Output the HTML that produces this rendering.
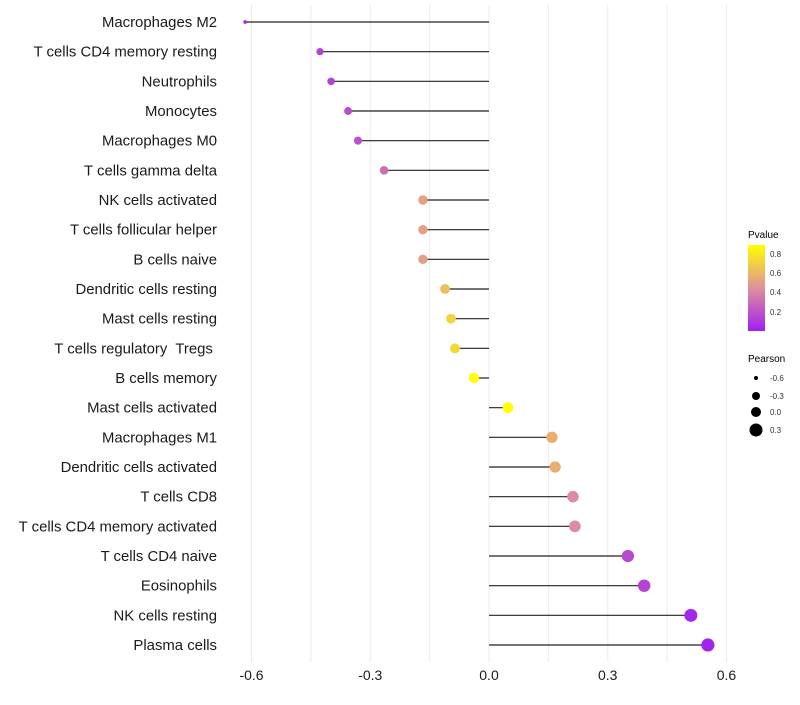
<!DOCTYPE html>
<html><head><meta charset="utf-8"><style>
body{margin:0;background:#fff;font-family:"Liberation Sans",sans-serif}
svg text{font-family:"Liberation Sans",sans-serif;white-space:pre}
</style></head><body>
<svg id="chart" width="800" height="700" xmlns="http://www.w3.org/2000/svg">
<defs><linearGradient id="pg" x1="0" y1="1" x2="0" y2="0">
<stop offset="0" stop-color="#a020f0"/><stop offset="0.5" stop-color="#e0909c"/><stop offset="1" stop-color="#ffff00"/>
</linearGradient></defs>
<g id="grid"></g><g id="marks"></g><g id="labels"></g>
<g>
<text x="748" y="238" font-size="10">Pvalue</text>
<rect x="748" y="245" width="17" height="86" fill="url(#pg)"/>
<g font-size="8" fill="#333">
<text x="770" y="257">0.8</text><text x="770" y="276">0.6</text><text x="770" y="295">0.4</text><text x="770" y="315">0.2</text>
</g></g>
<g>
<text x="748" y="362" font-size="10">Pearson</text>
<g fill="#000"><circle cx="756" cy="378" r="2"/><circle cx="756" cy="396" r="4"/><circle cx="756" cy="412" r="5"/><circle cx="756" cy="430" r="6.5"/></g>
<g font-size="8" fill="#333"><text x="770" y="381">-0.6</text><text x="770" y="399">-0.3</text><text x="770" y="415">0.0</text><text x="770" y="433">0.3</text></g>
</g>
</svg>
<script>
const categories=["Macrophages M2","T cells CD4 memory resting","Neutrophils","Monocytes","Macrophages M0","T cells gamma delta","NK cells activated","T cells follicular helper","B cells naive","Dendritic cells resting","Mast cells resting","T cells regulatory  Tregs ","B cells memory","Mast cells activated","Macrophages M1","Dendritic cells activated","T cells CD8","T cells CD4 memory activated","T cells CD4 naive","Eosinophils","NK cells resting","Plasma cells"];
const pearson=[-0.616,-0.427,-0.399,-0.356,-0.331,-0.265,-0.167,-0.167,-0.167,-0.111,-0.096,-0.086,-0.038,0.048,0.159,0.167,0.212,0.217,0.351,0.392,0.510,0.553];
const pvalues=[0.05,0.14,0.15,0.18,0.2,0.3,0.5,0.5,0.5,0.62,0.7,0.72,0.87,0.87,0.56,0.56,0.42,0.42,0.17,0.15,0.04,0.02];
const ticks=[-0.6,-0.3,0.0,0.3,0.6];
const NS="http://www.w3.org/2000/svg";
const x=v=>489+v*395.8;
const y=i=>22+i*(645-22)/(categories.length-1);
const r=v=>1.6+4.6*Math.sqrt(Math.max(0,v+0.62));
function col(p){const t=Math.max(0,Math.min(1,(p-0.01)/0.86));
const a=[160,32,240],m=[224,144,156],b=[255,255,0];let c;
if(t<0.5){const s=t/0.5;c=a.map((v,k)=>v+(m[k]-v)*s);}else{const s=(t-0.5)/0.5;c=m.map((v,k)=>v+(b[k]-v)*s);}
return `rgb(${c.map(Math.round).join(",")})`;}
function mk(t,a,p){const e=document.createElementNS(NS,t);for(const k in a)e.setAttribute(k,a[k]);p.appendChild(e);return e;}
const grid=document.getElementById("grid"),marks=document.getElementById("marks"),labels=document.getElementById("labels");
for(let v=-0.6;v<=0.66;v+=0.15){const g=mk("line",{x1:x(v),x2:x(v),y1:5,y2:662,stroke:"#ebebeb","stroke-width":1},grid);

}
ticks.forEach(t=>{const e=mk("text",{x:x(t),y:680,"text-anchor":"middle","font-size":"14",fill:"#1a1a1a"},labels);e.textContent=t.toFixed(1);

});
categories.forEach((c,i)=>{
const l=mk("text",{x:217,y:y(i)+5,"text-anchor":"end","font-size":"14.9",fill:"#1a1a1a"},labels);l.textContent=c;


const s=mk("line",{x1:x(0),x2:x(pearson[i]),y1:y(i),y2:y(i),stroke:"#222","stroke-width":1.2},marks);


const d=mk("circle",{cx:x(pearson[i]),cy:y(i),r:r(pearson[i]),fill:col(pvalues[i])},marks);


});
</script>
</body></html>
